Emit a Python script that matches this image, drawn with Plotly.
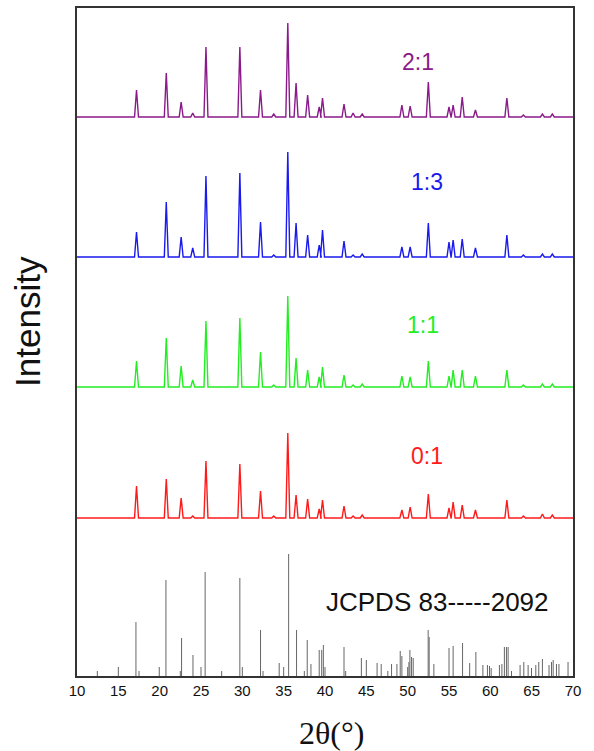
import plotly.graph_objects as go

# ---------------- data ----------------
PEAK_POS = [17.2, 20.8, 22.6, 24.0, 25.6, 29.7, 32.2, 33.8, 35.5, 36.5, 37.9,
            39.3, 39.7, 42.3, 43.4, 44.5, 49.3, 50.3, 52.5, 55.0, 55.5, 56.6,
            58.2, 62.0, 64.0, 66.3, 67.5]

H_2_1 = [27, 44, 15, 4, 70, 70, 27, 3, 94, 34, 22, 10, 19, 13, 4, 3, 12, 11,
         35, 10, 12, 20, 7, 19, 2, 3, 3]
H_1_3 = [25, 55, 20, 9, 81, 84, 35, 2, 105, 34, 22, 12, 27, 16, 2, 3, 10, 10,
         34, 15, 17, 18, 9, 22, 2, 3, 3]
H_1_1 = [26, 49, 21, 7, 66, 69, 35, 2, 91, 29, 17, 10, 20, 12, 2, 3, 11, 10,
         26, 11, 17, 17, 11, 17, 2, 3, 3]
H_0_1 = [32, 39, 20, 2, 57, 54, 27, 2, 85, 23, 19, 9, 18, 12, 2, 3, 8, 11,
         24, 10, 16, 13, 8, 18, 2, 4, 3]

SERIES_NAMES = ["2:1", "1:3", "1:1", "0:1"]
SERIES_OFFSETS = [559, 419, 289, 158]   # vertical stacking offsets

# JCPDS 83-2092 reference lines (2theta, relative intensity)
REF_POS = [12.46, 15.0, 17.13, 17.5, 19.95, 20.76, 22.5, 22.65, 24.03, 25.0,
           25.5, 27.5, 29.7, 30.0, 32.2, 32.5, 34.46, 35.0, 35.6, 36.56, 37.5,
           37.85, 38.3, 39.3, 39.6, 39.8, 40.0, 42.3, 42.5, 44.4, 45.0, 46.3,
           46.8, 47.6, 48.05, 48.7, 49.1, 49.3, 50.0, 50.15, 50.27, 50.47,
           50.67, 52.48, 52.6, 53.17, 55.0, 55.5, 56.64, 57.5, 58.25, 59.1,
           59.65, 59.9, 60.1, 61.1, 61.4, 61.7, 61.95, 62.15, 62.56, 63.6,
           64.05, 64.57, 64.98, 65.5, 65.86, 66.3, 67.1, 67.4, 67.6, 68.0,
           68.3, 69.4]
REF_INT = [5, 9, 54, 5, 9, 96, 5, 38, 21, 9, 104, 5, 98, 9, 46, 5, 13, 9, 122,
           46, 5, 36, 12, 26, 26, 31, 9, 29, 5, 18, 16, 13, 12, 5, 12, 12, 25,
           20, 9, 14, 26, 19, 18, 46, 39, 12, 28, 30, 33, 13, 24, 11, 11, 10,
           8, 11, 12, 29, 29, 29, 5, 11, 14, 11, 8, 11, 14, 17, 11, 14, 16, 12,
           12, 14]

X_TICKS = [10, 15, 20, 25, 30, 35, 40, 45, 50, 55, 60, 65, 70]

# ---------------- styling ----------------
COLORS = ["#8a1a8a", "#1a1aee", "#22ee22", "#ff1a1a"]
LABEL_POS = [(51.2, 614), (52.3, 494), (51.8, 351), (52.3, 220)]
HALF_W = 0.24
X_MIN, X_MAX = 10.0, 70.0
SANS = "Liberation Sans, Arial, sans-serif"
SERIF = "Liberation Serif, Times New Roman, serif"


def pattern(base, heights):
    xs, ys = [X_MIN], [base]
    for p, h in sorted(zip(PEAK_POS, heights)):
        xs += [p - HALF_W, p, p + HALF_W]
        ys += [base, base + h, base]
    xs.append(X_MAX)
    ys.append(base)
    return xs, ys


fig = go.Figure()

for name, off, hs, col in zip(SERIES_NAMES, SERIES_OFFSETS,
                              [H_2_1, H_1_3, H_1_1, H_0_1], COLORS):
    xs, ys = pattern(off, hs)
    fig.add_trace(go.Scatter(x=xs, y=ys, mode="lines", name=name,
                             line=dict(color=col, width=1.4),
                             hoverinfo="skip", showlegend=False))

sx, sy = [], []
for p, h in zip(REF_POS, REF_INT):
    sx += [p, p, None]
    sy += [0, h, None]
fig.add_trace(go.Scatter(x=sx, y=sy, mode="lines", name="JCPDS",
                         line=dict(color="#666666", width=1),
                         hoverinfo="skip", showlegend=False))

for name, (lx, ly), col in zip(SERIES_NAMES, LABEL_POS, COLORS):
    fig.add_annotation(x=lx, y=ly, text=name, showarrow=False,
                       xanchor="center", yanchor="middle",
                       font=dict(family=SANS, size=23, color=col))

fig.add_annotation(x=53.6, y=74, text="JCPDS 83-----2092", showarrow=False,
                   xanchor="center", yanchor="middle",
                   font=dict(family=SANS, size=26, color="#111111"))

# axis titles
fig.add_annotation(xref="paper", yref="paper", x=-49 / 496, y=0.53,
                   xanchor="center", yanchor="middle",
                   text="Intensity", textangle=-90, showarrow=False,
                   font=dict(family=SANS, size=35, color="#111111"))
fig.add_annotation(xref="paper", yref="paper", x=254 / 496, y=-57 / 668,
                   xanchor="center", yanchor="middle",
                   text="2θ(°)", showarrow=False,
                   font=dict(family=SERIF, size=32, color="#111111"))

fig.update_layout(
    width=594, height=751,
    margin=dict(l=77, r=21, t=8, b=75, autoexpand=False),
    paper_bgcolor="white", plot_bgcolor="white",
    xaxis=dict(range=[X_MIN, X_MAX], tickvals=X_TICKS, automargin=False,
               ticks="", showgrid=False, zeroline=False,
               showline=True, mirror=True, linecolor="#333333", linewidth=1.5,
               tickfont=dict(family=SANS, size=15, color="#111111")),
    yaxis=dict(range=[0, 668], showticklabels=False, ticks="", automargin=False,
               showgrid=False, zeroline=False,
               showline=True, mirror=True, linecolor="#333333", linewidth=1.5),
)

fig.write_html("out.html",
               config={"displayModeBar": False},
               post_script="document.body.style.margin='0';"
                           "document.body.style.overflow='hidden';")
